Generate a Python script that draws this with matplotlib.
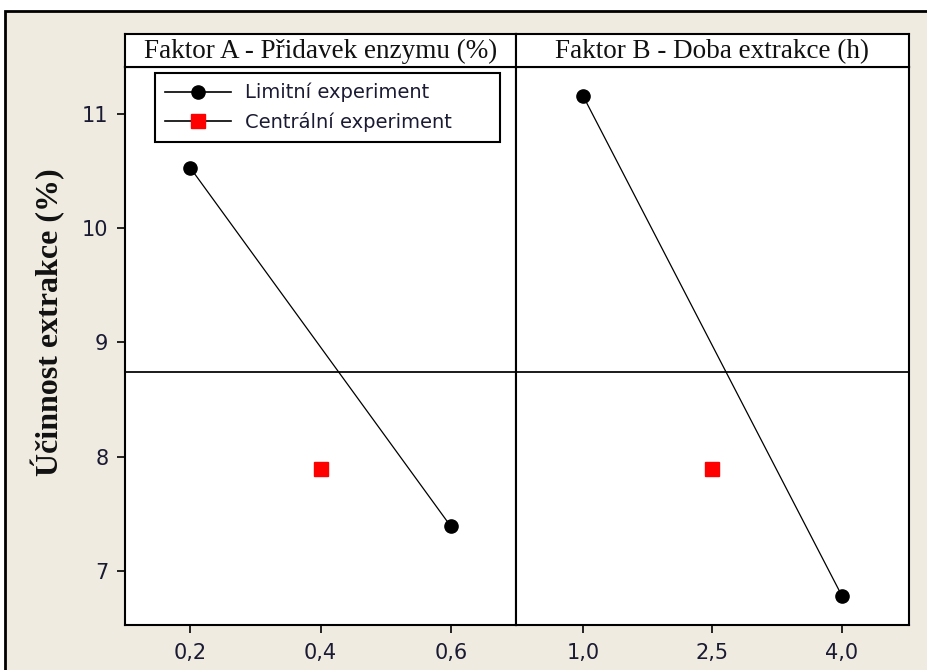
import matplotlib.pyplot as plt
from matplotlib.lines import Line2D
from matplotlib.patches import Rectangle

# hlavni efekty - stredni hodnoty ucinnosti extrakce
titles = ['Faktor A - Přidavek enzymu (%)', 'Faktor B - Doba extrakce (h)']
levels = [[0.2, 0.6], [1.0, 4.0]]
means = [[10.53, 7.39], [11.16, 6.78]]
center_x = [0.4, 2.5]
center_mean = 7.89
grand_mean = 8.74
xticks = [[0.2, 0.4, 0.6], [1.0, 2.5, 4.0]]
xticklabels = [['0,2', '0,4', '0,6'], ['1,0', '2,5', '4,0']]
xlims = [(0.1, 0.7), (0.225, 4.775)]
yticks = [7, 8, 9, 10, 11]

beige = '#efebe1'
fig = plt.figure(figsize=(9.28, 6.7), dpi=100, facecolor='white')
fig.patches.append(Rectangle((5 / 928, -0.1), 1.2, 0.1 + 1 - 11 / 670,
                             transform=fig.transFigure, facecolor=beige,
                             edgecolor='black', lw=2, zorder=-5))

W, H = 928.0, 670.0
lefts = [125, 516]
rights = [516, 909]
bottom, top, strip_top = 625, 67, 34

axes = []
for i in range(2):
    x0 = lefts[i] / W
    w = (rights[i] - lefts[i]) / W
    ax = fig.add_axes([x0, 1 - bottom / H, w, (bottom - top) / H])
    ax.set_facecolor('white')
    ax.set_xlim(*xlims[i])
    ax.set_ylim(6.527, 11.411)
    ax.axhline(grand_mean, color='#1a1a1a', lw=1.4, zorder=1)
    ax.plot(levels[i], means[i], color='black', lw=0.9, marker='o',
            markersize=9.5, zorder=3)
    ax.plot([center_x[i]], [center_mean], ls='none', marker='s',
            markersize=9.5, color='#ff0000', zorder=3)
    ax.set_xticks(xticks[i])
    ax.set_xticklabels(xticklabels[i])
    ax.tick_params(axis='x', direction='out', length=6, width=1.2,
                   labelsize=15, labelcolor='#1a1a33', pad=7)
    if i == 0:
        ax.set_yticks(yticks)
        ax.set_yticklabels([str(v) for v in yticks])
        ax.tick_params(axis='y', direction='out', length=6, width=1.2,
                       labelsize=15, labelcolor='#1a1a33', pad=6)
    else:
        ax.set_yticks([])
    for s in ax.spines.values():
        s.set_linewidth(1.5)
        s.set_color('black')
    axes.append(ax)

    # popisek faktoru v horni liste
    sax = fig.add_axes([x0, 1 - top / H, w, (top - strip_top) / H])
    sax.set_facecolor('white')
    sax.set_xticks([])
    sax.set_yticks([])
    for s in sax.spines.values():
        s.set_linewidth(1.5)
        s.set_color('black')
    sax.text(0.5, 0.46, titles[i], ha='center', va='center',
             fontsize=19.5, family='Liberation Serif', color='#111111',
             transform=sax.transAxes)

handles = [
    Line2D([], [], color='black', lw=1.2, marker='o', markersize=9.5),
    Line2D([], [], color='black', lw=1.2, marker='s', markersize=9.5,
           markerfacecolor='#ff0000', markeredgecolor='#ff0000'),
]
leg = axes[0].legend(handles, ['Limitní experiment', 'Centrální experiment'],
                     loc='upper left', bbox_to_anchor=(0.077, 0.989, 0.882, 0.0),
                     mode='expand', fancybox=False, edgecolor='black',
                     framealpha=1, fontsize=14, handlelength=3.4,
                     borderpad=0.5, labelspacing=0.5, handletextpad=0.7,
                     borderaxespad=0)
leg.get_frame().set_linewidth(1.5)
for t in leg.get_texts():
    t.set_color('#1a1a33')

fig.text(48 / W, 1 - 322 / H, 'Účinnost extrakce (%)', rotation=90,
         ha='center', va='center', fontsize=23, fontweight='bold',
         family='Liberation Serif', color='#111111')

fig.savefig('out.png', dpi=100, facecolor=fig.get_facecolor())
